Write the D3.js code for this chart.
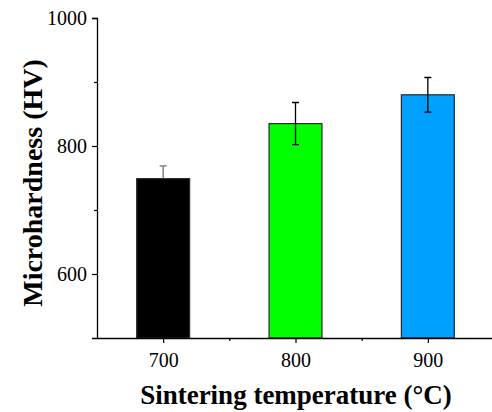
<!DOCTYPE html>
<html>
<head>
<meta charset="utf-8">
<script src="https://cdn.jsdelivr.net/npm/d3@7"></script>
<style>
  body { margin: 0; background: #fff; }
</style>
</head>
<body>
<div id="chart"></div>
<script>
// sintering temperature vs microhardness
const temps = [700, 800, 900]
const hardness = [749, 835, 880]
const errors = [20, 33, 27]
const barColors = ['#000000', '#00ff00', '#00a0ff']
const errTopColors = ['#707070', '#000000', '#000000']
const errLowColors = ['#000000', '#000000', '#000000']
const yTicks = [600, 800, 1000]
const yMinor = [700, 900]
const xTicks = [700, 800, 900]
const xMinor = [750, 850]

const width = 492
const height = 412
const serif = "'Liberation Serif', Tinos, 'Times New Roman', 'DejaVu Serif', serif"

const svg = d3.select('#chart').append('svg')
    .attr('width', width).attr('height', height)

const x = d3.scaleLinear().domain([650, 950]).range([97, 494])
const y = d3.scaleLinear().domain([500, 1000]).range([338, 18])
const barW = x(720) - x(680)

// bars
svg.selectAll('.bar').data(temps).enter().append('rect')
    .attr('class', 'bar')
    .attr('x', d => x(d) - barW / 2)
    .attr('width', barW)
    .attr('y', (d, i) => y(hardness[i]))
    .attr('height', (d, i) => y(500) - y(hardness[i]))
    .attr('fill', (d, i) => barColors[i])
    .attr('stroke', '#2a2a2a')
    .attr('stroke-width', 1.2)

// error bars (upper and lower halves)
const err = svg.selectAll('.err').data(temps).enter().append('g')
    .attr('class', 'err')
    .attr('stroke-width', 1.3)
err.append('path')
    .attr('stroke', (d, i) => errTopColors[i])
    .attr('fill', 'none')
    .attr('d', (d, i) => {
        const cx = x(d), t = y(hardness[i] + errors[i]), m = y(hardness[i])
        return `M${cx - 3.5},${t}H${cx + 3.5}M${cx},${t}V${m}`
    })
err.append('path')
    .attr('stroke', (d, i) => errLowColors[i])
    .attr('fill', 'none')
    .attr('d', (d, i) => {
        const cx = x(d), b = y(hardness[i] - errors[i]), m = y(hardness[i])
        return `M${cx - 3.5},${b}H${cx + 3.5}M${cx},${b}V${m}`
    })

// y axis
svg.append('g')
    .attr('transform', `translate(${x(650)},0)`)
    .call(d3.axisLeft(y).tickValues(yTicks).tickSize(5).tickPadding(5).tickFormat(d3.format('d')))
svg.append('g')
    .attr('transform', `translate(${x(650)},0)`)
    .call(d3.axisLeft(y).tickValues(yMinor).tickSize(3).tickFormat(''))
    .select('.domain').remove()

// x axis
svg.append('g')
    .attr('transform', `translate(0,${y(500)})`)
    .call(d3.axisBottom(x).tickValues(xTicks).tickSize(5).tickPadding(10).tickSizeOuter(0))
svg.append('g')
    .attr('transform', `translate(0,${y(500)})`)
    .call(d3.axisBottom(x).tickValues(xMinor).tickSize(3).tickFormat(''))
    .select('.domain').remove()

svg.selectAll('g').attr('font-family', serif)
svg.selectAll('.domain').attr('stroke', '#000').attr('stroke-width', 1.3)
svg.selectAll('.tick line').attr('stroke', '#000').attr('stroke-width', 1.2)
svg.selectAll('.tick text')
    .attr('fill', '#000')
    .attr('font-family', serif)
    .attr('font-size', 20)

// axis titles
svg.append('text')
    .attr('x', 296).attr('y', 404)
    .attr('text-anchor', 'middle')
    .attr('font-family', serif)
    .attr('font-size', 27).attr('font-weight', 'bold')
    .text('Sintering temperature (°C)')

svg.append('text')
    .attr('transform', 'translate(42,183) rotate(-90)')
    .attr('text-anchor', 'middle')
    .attr('font-family', serif)
    .attr('font-size', 28).attr('font-weight', 'bold')
    .text('Microhardness (HV)')
</script>
</body>
</html>
